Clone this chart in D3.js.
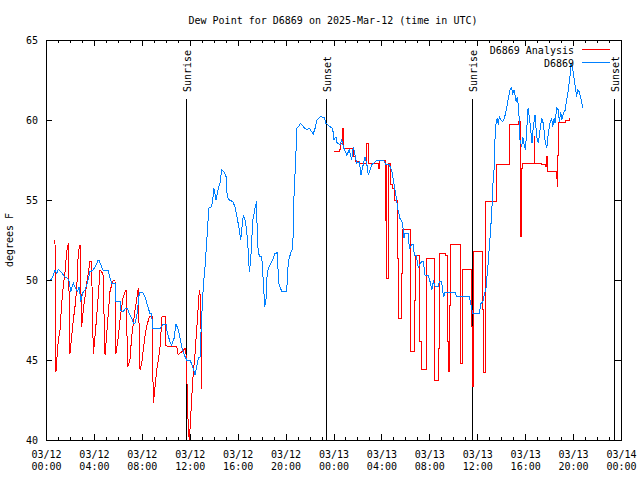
<!DOCTYPE html>
<html>
<head>
<title>Dew Point for D6869</title>
<style>
  body { margin: 0; background: #fff; }
  text { font-family: "DejaVu Sans Mono", monospace; font-size: 10px; fill: #000; }
</style>
</head>
<body>
<script src="https://d3js.org/d3.v7.min.js"></script>
<script>
// observations: [hours since 03/12 00:00 UTC, dew point F]
var observed = [
  [0.19,49.94],[0.33,49.94],[0.56,50.2],[0.75,50.6],[0.89,50.4],[1.03,50.67],[1.31,50.46],[1.59,50.17],
  [1.81,50.1],[1.95,49.9],[2.06,49.27],[2.15,49.48],[2.28,49.8],[2.42,49.58],[2.61,49.27],[2.78,49.58],
  [2.9,48.65],[3.06,49.2],[3.26,49.38],[3.45,49.8],[3.67,50.52],[3.9,50.6],[4.09,50.8],[4.32,51.19],
  [4.45,51.2],[4.65,50.8],[4.78,50.6],[5.2,50.6],[5.28,50.3],[5.48,49.8],[5.76,49.8],[5.84,48.65],
  [6.18,48.65],[6.26,48.1],[6.45,48.02],[6.6,48.2],[6.82,48.2],[6.95,47.9],[7.15,47.6],[7.29,47.3],
  [7.43,47.3],[7.57,47.7],[7.79,49.2],[8.07,49.2],[8.26,48.96],[8.46,48.44],[8.68,47.9],[8.82,47.9],
  [8.9,46.98],[9.52,46.98],[9.8,47.25],[10.02,47.25],[10.13,46.67],[10.35,46.15],[10.49,45.94],[10.69,46.35],
  [10.85,47.25],[11.04,46.9],[11.33,45.83],[11.55,45.31],[11.75,45.0],[12.02,45.0],[12.25,44.58],[12.44,44.06],
  [12.71,45.1],[12.86,45.2],[12.91,46.25],[13.0,47.7],[13.13,49.6],[13.27,50.75],[13.36,51.77],[13.5,53.33],
  [13.58,54.48],[13.83,54.58],[13.94,55.2],[14.02,55.73],[14.19,55.0],[14.38,55.7],[14.52,56.04],[14.67,56.88],
  [14.86,56.77],[15.03,56.46],[15.13,55.2],[15.3,55.0],[15.59,54.9],[15.78,54.58],[15.97,53.85],[16.14,53.1],
  [16.25,52.5],[16.36,53.3],[16.47,54.06],[16.61,53.75],[16.75,53.1],[16.89,51.77],[16.97,50.52],[17.09,51.25],
  [17.26,53.75],[17.45,54.48],[17.59,54.9],[17.64,52.3],[17.81,51.46],[18.01,51.46],[18.14,49.9],[18.26,48.33],
  [18.37,48.85],[18.47,50.52],[18.7,50.94],[18.92,51.25],[19.12,51.67],[19.34,51.7],[19.39,49.9],[19.68,49.27],
  [20.09,49.27],[20.23,51.15],[20.43,51.7],[20.6,51.98],[20.7,55.2],[20.84,57.5],[20.95,59.48],[21.06,59.58],
  [21.26,59.79],[21.48,59.58],[21.76,59.38],[21.98,59.48],[22.18,59.27],[22.31,59.13],[22.46,59.48],[22.6,60.0],
  [22.87,60.2],[23.21,60.17],[23.37,59.79],[23.71,59.58],[23.93,59.48],[24.04,58.75],[24.21,58.96],[24.29,58.6],
  [24.54,58.44],[24.68,58.75],[24.82,58.33],[25.1,57.81],[25.32,58.13],[25.52,57.5],[25.65,58.33],[25.8,57.81],
  [25.94,57.3],[26.16,57.4],[26.3,56.56],[26.44,57.08],[26.63,57.7],[26.77,57.3],[26.91,56.56],[27.05,56.88],
  [27.19,57.19],[27.33,57.29],[27.61,57.5],[28.16,57.5],[28.38,57.19],[28.66,57.19],[28.85,56.88],[28.99,56.25],
  [29.13,55.63],[29.27,55.0],[29.36,54.48],[29.55,53.85],[29.77,53.54],[29.88,52.6],[29.97,52.92],[30.24,52.92],
  [30.33,51.98],[30.53,52.19],[30.66,52.19],[30.75,51.56],[30.89,51.56],[31.0,51.15],[31.08,50.73],[31.16,50.94],
  [31.36,51.15],[31.5,51.15],[31.64,50.31],[31.92,50.31],[32.06,49.9],[32.2,49.38],[32.34,49.9],[32.5,49.58],
  [32.75,49.58],[32.83,49.9],[33.03,49.9],[33.12,49.27],[33.22,48.96],[33.31,49.23],[34.14,49.23],[34.28,48.96],
  [35.34,48.96],[35.45,48.54],[35.62,47.92],[36.17,47.92],[36.31,48.54],[36.45,48.6],[36.56,48.96],[36.73,49.48],
  [36.92,51.15],[37.07,52.7],[37.21,54.17],[37.29,55.83],[37.4,56.88],[37.48,58.75],[37.57,59.79],[37.67,60.1],
  [37.76,59.69],[37.84,60.2],[37.98,60.0],[38.12,59.9],[38.26,60.1],[38.46,60.73],[38.59,61.35],[38.73,61.88],
  [38.87,62.04],[38.96,61.65],[39.07,61.88],[39.15,61.56],[39.24,61.15],[39.34,61.46],[39.46,60.73],[39.57,58.75],
  [39.71,58.33],[39.8,58.96],[39.91,58.44],[40.02,58.13],[40.13,59.38],[40.24,60.73],[40.35,60.2],[40.46,59.38],
  [40.57,58.54],[40.68,59.58],[40.82,60.31],[40.96,58.96],[41.1,58.54],[41.24,59.38],[41.38,60.1],[41.51,59.79],
  [41.66,58.75],[41.8,58.23],[41.93,59.17],[42.07,59.79],[42.21,60.1],[42.3,59.58],[42.41,60.1],[42.49,59.8],
  [42.63,60.73],[42.77,60.63],[42.85,59.9],[42.97,60.52],[43.05,60.0],[43.19,60.42],[43.33,60.6],[43.47,61.25],
  [43.6,61.88],[43.74,62.7],[43.83,63.54],[43.97,63.23],[44.08,62.6],[44.16,62.19],[44.3,61.46],[44.38,61.88],
  [44.52,61.77],[44.57,61.56],[44.71,61.15],[44.8,60.73]
];

// analysis, first day: sawtooth drawn point to point
var analysisEarly = [
  [0.75,52.5],[0.83,44.27],[0.94,45.4],[1.03,46.25],[1.17,46.9],[1.31,48.54],[1.44,49.58],[1.59,50.52],
  [1.73,51.77],[1.86,52.29],[2.0,45.4],[2.15,46.56],[2.28,47.5],[2.42,48.33],[2.56,49.38],[2.7,51.77],
  [2.84,52.19],[2.98,47.08],[3.11,48.13],[3.26,48.96],[3.4,49.8],[3.53,50.42],[3.67,51.15],[3.8,51.15],[3.95,45.4],
  [4.09,46.46],[4.23,47.7],[4.37,49.06],[4.51,50.63],[4.65,50.52],[4.76,50.31],[4.93,45.3],[5.07,46.67],
  [5.2,47.9],[5.34,49.27],[5.48,49.69],[5.62,50.0],[5.76,50.0],[5.84,45.4],[6.04,46.46],[6.18,47.5],[6.32,48.33],
  [6.45,48.96],[6.68,49.38],[6.82,44.58],[7.01,45.0],[7.15,46.46],[7.29,47.3],[7.43,48.13],[7.57,48.75],
  [7.7,49.48],[7.85,44.38],[7.99,44.8],[8.12,45.63],[8.26,46.46],[8.4,47.08],[8.62,47.7],[8.85,47.7],[8.96,42.3],
  [9.1,43.33],[9.24,44.38],[9.38,45.0],[9.52,45.83],[9.69,47.75],[9.96,47.75],[9.98,45.88],[10.91,45.83],
  [11.04,45.31],[11.18,45.42],[11.33,45.52],[11.6,45.73],[11.67,45.73],[11.8,42.9],[11.88,40.6],[11.97,40.0],[12.08,41.46],
  [12.25,43.75],[12.44,45.4],[12.58,46.9],[12.71,48.33],[12.8,49.38],[12.91,48.85],[13.0,43.2]
];

// analysis, second day: held values (steps)
var analysisLate = [
  [24.04,58.05],[24.54,58.13],[24.6,58.54],[24.77,59.48],[24.82,58.23],[25.65,57.7],[25.8,57.4],[26.16,57.3],
  [26.72,58.54],[26.91,57.3],[27.74,56.98],[27.82,57.5],[28.32,53.75],[28.38,57.19],[28.44,50.1],[28.55,57.3],[28.77,55.94],
  [28.94,55.73],[29.13,55.0],[29.36,51.35],[29.41,47.6],[29.69,50.4],[29.77,53.13],[30.39,49.38],[30.45,45.52],
  [30.72,48.75],[30.81,51.56],[31.22,46.15],[31.36,44.4],[31.78,51.35],[32.39,47.19],[32.47,43.75],[32.75,45.73],
  [32.83,51.67],[33.39,51.56],[33.5,46.15],[33.62,44.27],[33.67,48.4],[33.78,52.19],[34.56,47.7],[34.64,44.8],
  [34.78,50.63],[35.54,47.08],[35.62,43.33],[35.67,51.77],[36.45,48.13],[36.56,44.2],[36.65,49.58],[36.7,54.9],
  [37.61,57.19],[38.67,58.44],[38.73,59.69],[39.43,59.9],[39.57,58.75],[39.65,52.7],[39.71,57.0],[39.8,57.3],
  [40.76,58.96],[40.82,57.3],[41.38,57.19],[41.66,57.08],[41.74,57.71],[41.85,56.77],[42.63,56.35],[42.68,55.83],
  [42.71,57.8],[42.76,59.85],[43.33,60.0],[43.68,60.1],[43.72,60.1]
];

var sunHours = [11.66, 23.4, 35.58, 47.44];
var sunLabels = ["Sunrise", "Sunset", "Sunrise", "Sunset"];
var yTicks = [40, 45, 50, 55, 60, 65];
var seriesNames = ["D6869 Analysis", "D6869"];
var seriesColors = ["#ff0000", "#0080ff"];
var titleText = "Dew Point for D6869 on 2025-Mar-12 (time in UTC)";
var yLabel = "degrees F";

/*********************************
 * Scales
 *********************************/
var start = Date.UTC(2025, 2, 12);
function hr(h) { return new Date(start + h * 3600e3); }

// plot box in pixels (window.top is read-only, so prefixed names)
var pLeft = 46, pRight = 621, pTop = 40, pBottom = 440;

var x = d3.scaleUtc().domain([hr(0), hr(48)]).range([pLeft, pRight]);
var y = d3.scaleLinear().domain([40, 65]).range([pBottom, pTop]);

var svg = d3.select("body").append("svg")
    .attr("width", 640)
    .attr("height", 480)
    .style("display", "block");

svg.append("clipPath").attr("id", "plot")
    .append("rect")
    .attr("x", pLeft).attr("y", pTop)
    .attr("width", pRight - pLeft + 1).attr("height", pBottom - pTop + 1);

/*********************************
 * Sunrise / sunset markers
 *********************************/
svg.selectAll(".sun")
    .data(sunHours)
    .enter()
    .append("line")
    .attr("class", "sun")
    .attr("x1", function(d) { return Math.round(x(hr(d))) + 0.5; })
    .attr("x2", function(d) { return Math.round(x(hr(d))) + 0.5; })
    .attr("y1", 99)
    .attr("y2", pBottom)
    .attr("stroke", "#000")
    .attr("shape-rendering", "crispEdges");

svg.selectAll(".sunlabel")
    .data(sunHours)
    .enter()
    .append("text")
    .attr("class", "sunlabel")
    .attr("transform", function(d) {
        return "translate(" + (Math.round(x(hr(d))) + 5) + ",92) rotate(-90)";
    })
    .attr("text-anchor", "start")
    .text(function(d, i) { return sunLabels[i]; });

/*********************************
 * Series
 *********************************/
var plot = svg.append("g").attr("clip-path", "url(#plot)");

var line = d3.line()
    .x(function(d) { return x(hr(d[0])); })
    .y(function(d) { return y(d[1]); });

var stepLine = d3.line()
    .x(function(d) { return x(hr(d[0])); })
    .y(function(d) { return y(d[1]); })
    .curve(d3.curveStepAfter);

function drawSeries(data, gen, color) {
    plot.append("path")
        .datum(data)
        .attr("d", gen)
        .attr("fill", "none")
        .attr("stroke", color)
        .attr("stroke-width", 1)
        .attr("shape-rendering", "crispEdges");
}

drawSeries(analysisEarly, line, seriesColors[0]);
drawSeries(analysisLate, stepLine, seriesColors[0]);
drawSeries(observed, line, seriesColors[1]);

/*********************************
 * Axes (ticks pointing inward)
 *********************************/
function strip(g) {
    g.select(".domain").remove();
    g.selectAll("line").attr("shape-rendering", "crispEdges");
    g.attr("font-family", null).attr("font-size", null);
}

svg.append("g")
    .attr("transform", "translate(0," + pBottom + ")")
    .call(d3.axisBottom(x).ticks(d3.utcHour.every(1)).tickSizeInner(-3).tickSizeOuter(0).tickFormat(""))
    .call(strip);
svg.append("g")
    .attr("transform", "translate(0," + pTop + ")")
    .call(d3.axisTop(x).ticks(d3.utcHour.every(1)).tickSizeInner(-3).tickSizeOuter(0).tickFormat(""))
    .call(strip);
svg.append("g")
    .attr("transform", "translate(0," + pTop + ")")
    .call(d3.axisTop(x).ticks(d3.utcHour.every(4)).tickSizeInner(-6).tickSizeOuter(0).tickFormat(""))
    .call(strip);

var xAxis = svg.append("g")
    .attr("transform", "translate(0," + pBottom + ")")
    .call(d3.axisBottom(x).ticks(d3.utcHour.every(4)).tickSizeInner(-6).tickSizeOuter(0))
    .call(strip);

xAxis.selectAll(".tick text").each(function(d) {
    var t = d3.select(this).text(null).attr("y", null).attr("dy", null);
    t.append("tspan").attr("x", 0).attr("y", 18).text(d3.utcFormat("%m/%d")(d));
    t.append("tspan").attr("x", 0).attr("y", 30).text(d3.utcFormat("%H:%M")(d));
});

svg.append("g")
    .attr("transform", "translate(" + pLeft + ",0)")
    .call(d3.axisLeft(y).tickValues(yTicks).tickSizeInner(-6).tickSizeOuter(0).tickPadding(8))
    .call(strip)
    .selectAll(".tick text").attr("dy", "0.35em");

svg.append("g")
    .attr("transform", "translate(" + pRight + ",0)")
    .call(d3.axisRight(y).tickValues(yTicks).tickSizeInner(-6).tickSizeOuter(0).tickFormat(""))
    .call(strip);

// frame
svg.append("rect")
    .attr("x", pLeft + 0.5).attr("y", pTop + 0.5)
    .attr("width", pRight - pLeft).attr("height", pBottom - pTop)
    .attr("fill", "none")
    .attr("stroke", "#000")
    .attr("shape-rendering", "crispEdges");

/*********************************
 * Titles and legend
 *********************************/
svg.append("text")
    .attr("x", 333).attr("y", 24)
    .attr("text-anchor", "middle")
    .text(titleText);

svg.append("text")
    .attr("transform", "translate(13,240) rotate(-90)")
    .attr("text-anchor", "middle")
    .text(yLabel);

var legend = svg.selectAll(".legend")
    .data(seriesNames)
    .enter()
    .append("g")
    .attr("class", "legend")
    .attr("transform", function(d, i) { return "translate(0," + (i * 12.5) + ")"; });

legend.append("text")
    .attr("x", 574).attr("y", 54)
    .attr("text-anchor", "end")
    .text(function(d) { return d; });

legend.append("line")
    .attr("x1", 582).attr("x2", 610)
    .attr("y1", 49.5).attr("y2", 49.5)
    .attr("stroke", function(d, i) { return seriesColors[i]; })
    .attr("shape-rendering", "crispEdges");
</script>
</body>
</html>
